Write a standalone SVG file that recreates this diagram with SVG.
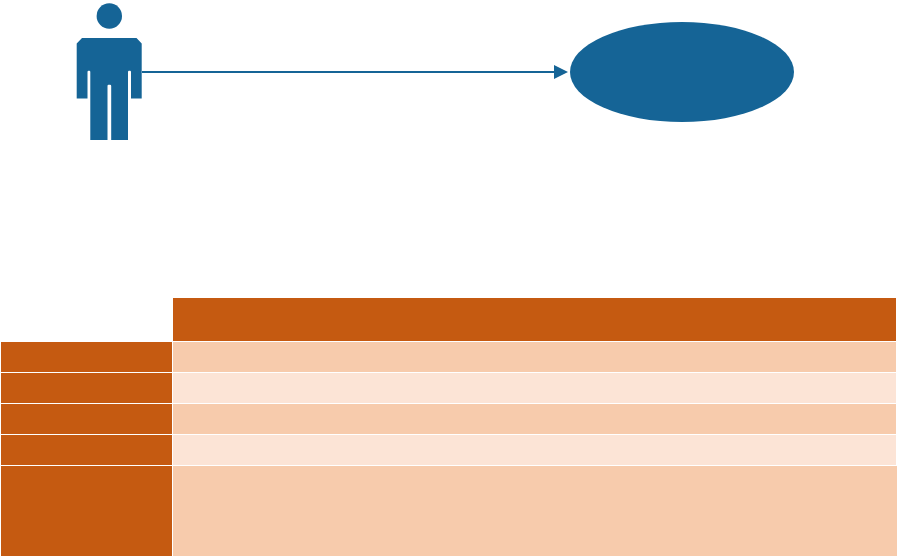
<svg xmlns="http://www.w3.org/2000/svg" width="897" height="557" viewBox="0 0 897 557">
<style>
.blue{fill:#156496}
.head{fill:#c55a11}
.light{fill:#f7cbac}
.pale{fill:#fce4d6}
.conn{stroke:#156496;stroke-width:2;fill:none}
</style>
<defs>
<marker id="arrow" markerUnits="userSpaceOnUse" markerWidth="14" markerHeight="14" refX="0" refY="7" orient="auto">
<path d="M0 0L14 7L0 14Z" class="blue"/>
</marker>
</defs>
<g id="connectors">
<path class="conn" d="M142 72H554" marker-end="url(#arrow)"/>
</g>
<g id="actor">
<circle class="blue" cx="109.300" cy="16" r="12.700"/>
<path class="blue" d="M82 38H136.500L141.700 43.500V98.500H131V72Q131 70.800 130 70.800H129Q128 70.800 128 72V140H111.200V86Q111.200 84.800 110 84.800H108.500Q107.500 84.800 107.500 86V140H90.300V72Q90.300 70.800 89.300 70.800H88.500Q87.500 70.800 87.500 72V98.500H76.700V43.500Z"/>
</g>
<g id="usecase">
<ellipse class="blue" cx="682" cy="72" rx="112" ry="50"/>
</g>
<g id="table">
<rect class="head" x="173" y="298" width="723" height="43"/>
<rect class="head" x="1" y="342" width="171" height="30"/>
<rect class="light" x="173" y="342" width="723" height="30"/>
<rect class="head" x="1" y="373" width="171" height="30"/>
<rect class="pale" x="173" y="373" width="723" height="30"/>
<rect class="head" x="1" y="404" width="171" height="30"/>
<rect class="light" x="173" y="404" width="723" height="30"/>
<rect class="head" x="1" y="435" width="171" height="30"/>
<rect class="pale" x="173" y="435" width="723" height="30"/>
<rect class="head" x="1" y="466" width="171" height="90"/>
<rect class="light" x="173" y="466" width="724" height="90"/>
</g>
</svg>
